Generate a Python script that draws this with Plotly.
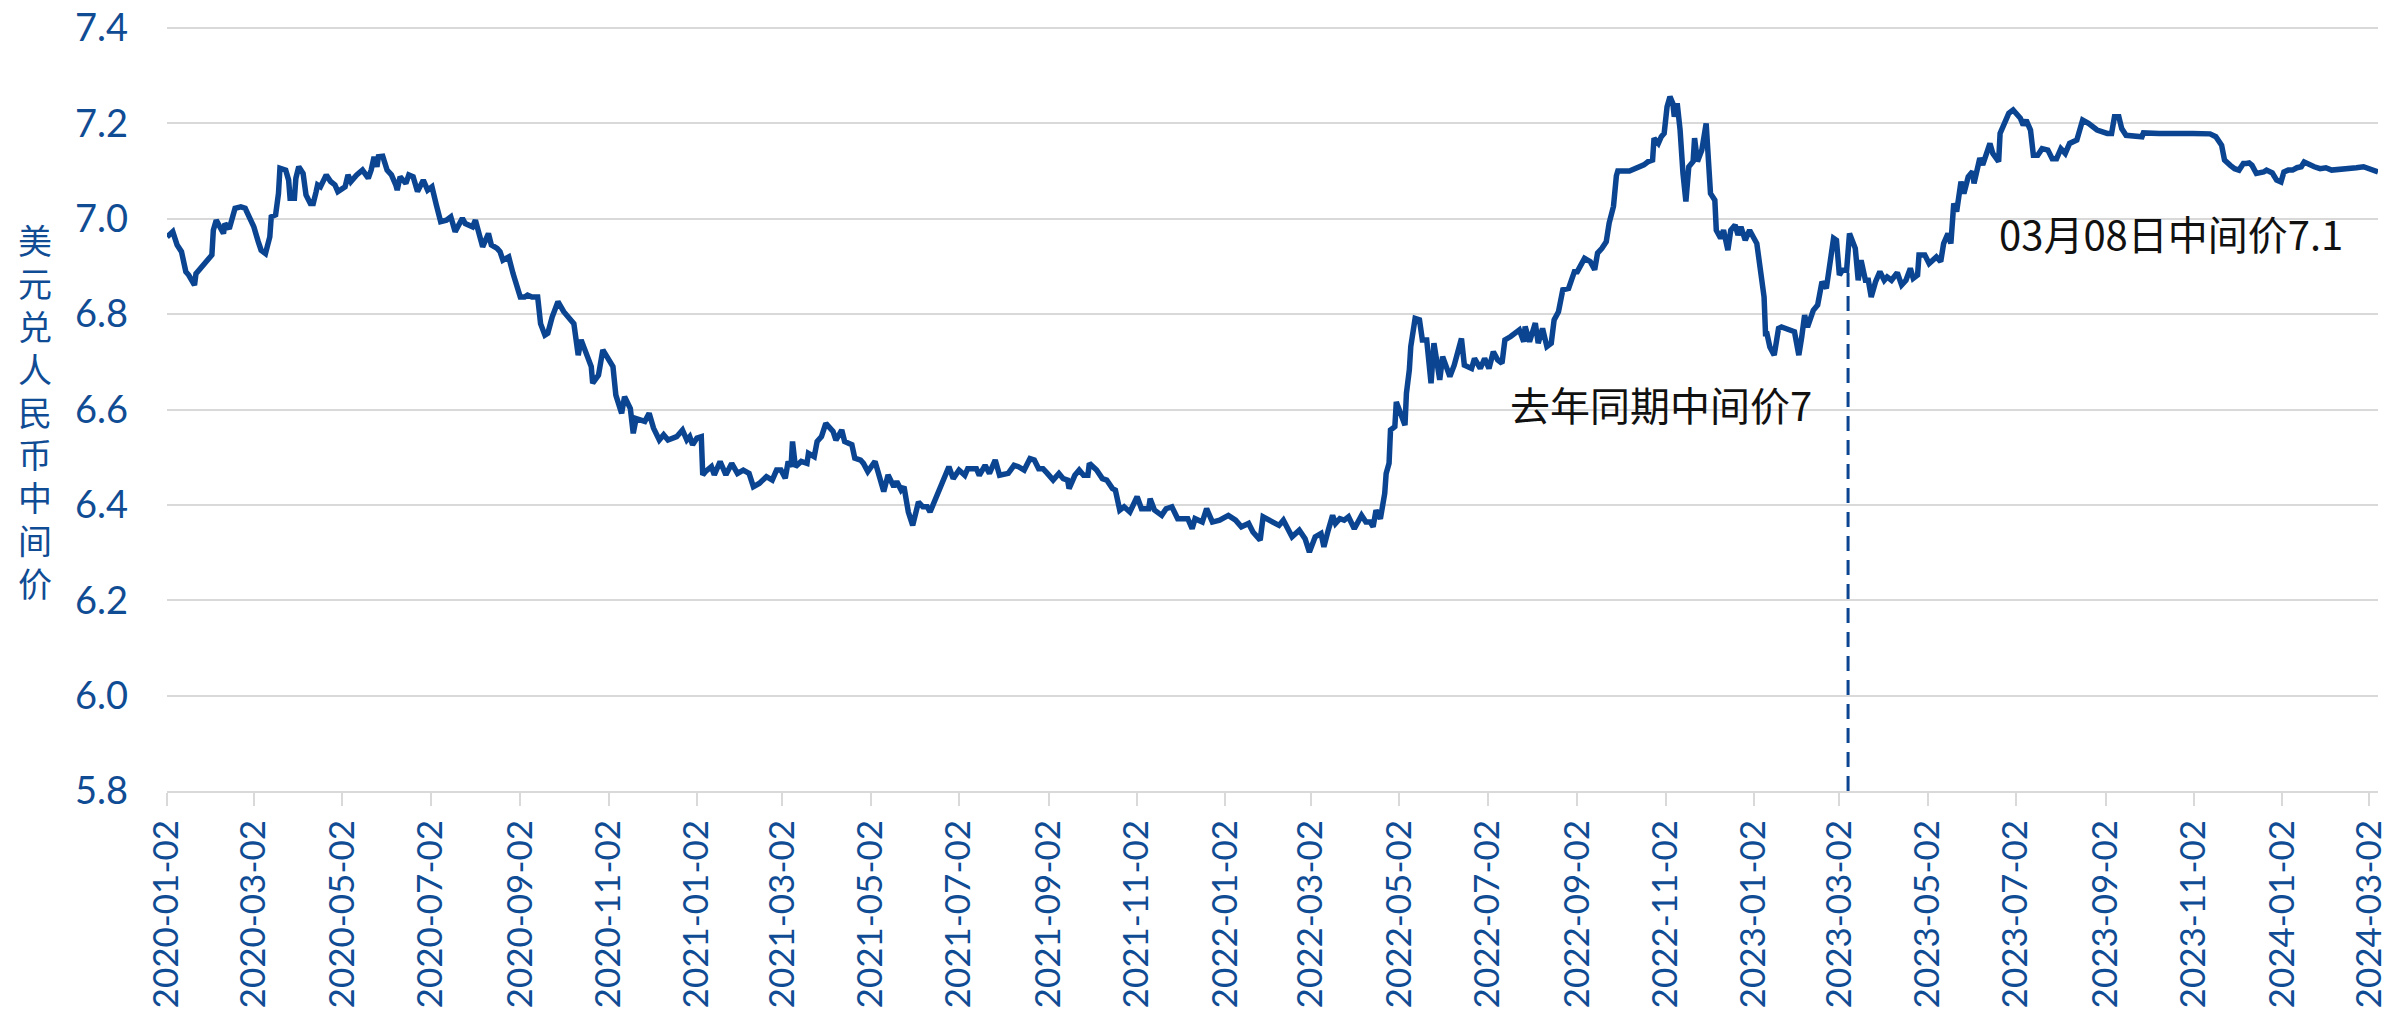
import plotly.graph_objects as go

# ---------------- data ----------------
dates = [
    "2020-01-02","2020-01-06","2020-01-09","2020-01-12","2020-01-15","2020-01-17","2020-01-21","2020-01-22",
    "2020-02-02","2020-02-03","2020-02-05","2020-02-07","2020-02-10","2020-02-11","2020-02-14","2020-02-18",
    "2020-02-22","2020-02-25","2020-03-02","2020-03-05","2020-03-07","2020-03-10","2020-03-13","2020-03-14",
    "2020-03-17","2020-03-19","2020-03-20","2020-03-24","2020-03-26","2020-03-27","2020-03-30","2020-03-31",
    "2020-04-02","2020-04-05","2020-04-07","2020-04-10","2020-04-12","2020-04-14","2020-04-15","2020-04-17",
    "2020-04-21","2020-04-24","2020-04-27","2020-04-29","2020-05-04","2020-05-06","2020-05-08","2020-05-12",
    "2020-05-16","2020-05-20","2020-05-22","2020-05-24","2020-05-26","2020-05-27","2020-05-30","2020-06-02",
    "2020-06-05","2020-06-08","2020-06-09","2020-06-11","2020-06-15","2020-06-17","2020-06-20","2020-06-23",
    "2020-06-27","2020-06-30","2020-07-03","2020-07-06","2020-07-09","2020-07-13","2020-07-16","2020-07-19",
    "2020-07-22","2020-07-24","2020-07-26","2020-07-31","2020-08-02","2020-08-05","2020-08-07","2020-08-11",
    "2020-08-13","2020-08-17","2020-08-19","2020-08-21","2020-08-25","2020-08-28","2020-09-02","2020-09-05",
    "2020-09-07","2020-09-10","2020-09-14","2020-09-16","2020-09-19","2020-09-21","2020-09-24","2020-09-28",
    "2020-10-02","2020-10-09","2020-10-12","2020-10-14","2020-10-16","2020-10-21","2020-10-22","2020-10-26",
    "2020-10-29","2020-11-03","2020-11-05","2020-11-07","2020-11-09","2020-11-11","2020-11-13","2020-11-17",
    "2020-11-19","2020-11-21","2020-11-27","2020-11-30","2020-12-03","2020-12-07","2020-12-10","2020-12-13",
    "2020-12-19","2020-12-23","2020-12-26","2020-12-28","2020-12-30","2021-01-02","2021-01-05","2021-01-06",
    "2021-01-08","2021-01-12","2021-01-14","2021-01-18","2021-01-22","2021-01-26","2021-01-30","2021-02-03",
    "2021-02-07","2021-02-10","2021-02-14","2021-02-19","2021-02-23","2021-02-26","2021-03-01","2021-03-04",
    "2021-03-06","2021-03-08","2021-03-09","2021-03-11","2021-03-15","2021-03-19","2021-03-20","2021-03-24",
    "2021-03-26","2021-03-29","2021-04-01","2021-04-03","2021-04-06","2021-04-08","2021-04-12","2021-04-14",
    "2021-04-19","2021-04-21","2021-04-25","2021-04-27","2021-04-30","2021-05-05","2021-05-07","2021-05-11",
    "2021-05-14","2021-05-18","2021-05-20","2021-05-23","2021-05-25","2021-05-28","2021-05-31","2021-06-04",
    "2021-06-07","2021-06-10","2021-06-12","2021-06-15","2021-06-18","2021-06-21","2021-06-25","2021-06-28",
    "2021-07-02","2021-07-06","2021-07-08","2021-07-14","2021-07-16","2021-07-20","2021-07-23","2021-07-27",
    "2021-07-30","2021-08-05","2021-08-09","2021-08-12","2021-08-16","2021-08-20","2021-08-23","2021-08-26",
    "2021-08-29","2021-09-01","2021-09-05","2021-09-09","2021-09-12","2021-09-15","2021-09-16","2021-09-20",
    "2021-09-23","2021-09-26","2021-09-29","2021-09-30","2021-10-05","2021-10-09","2021-10-12","2021-10-16",
    "2021-10-18","2021-10-21","2021-10-24","2021-10-28","2021-11-02","2021-11-05","2021-11-10","2021-11-11",
    "2021-11-14","2021-11-19","2021-11-22","2021-11-26","2021-11-30","2021-12-04","2021-12-07","2021-12-10",
    "2021-12-12","2021-12-17","2021-12-20","2021-12-24","2021-12-29","2022-01-04","2022-01-09","2022-01-13",
    "2022-01-18","2022-01-21","2022-01-26","2022-01-28","2022-02-02","2022-02-08","2022-02-11","2022-02-17",
    "2022-02-22","2022-02-26","2022-03-01","2022-03-05","2022-03-09","2022-03-11","2022-03-14","2022-03-17",
    "2022-03-19","2022-03-22","2022-03-25","2022-03-28","2022-04-01","2022-04-06","2022-04-09","2022-04-12",
    "2022-04-14","2022-04-16","2022-04-19","2022-04-22","2022-04-23","2022-04-25","2022-04-26","2022-04-29",
    "2022-04-30","2022-05-04","2022-05-06","2022-05-07","2022-05-09","2022-05-10","2022-05-13","2022-05-16",
    "2022-05-18","2022-05-21","2022-05-24","2022-05-26","2022-05-30","2022-06-01","2022-06-06","2022-06-09",
    "2022-06-14","2022-06-16","2022-06-21","2022-06-23","2022-06-27","2022-06-30","2022-07-03","2022-07-06",
    "2022-07-09","2022-07-12","2022-07-14","2022-07-18","2022-07-21","2022-07-24","2022-07-27","2022-07-28",
    "2022-07-31","2022-08-04","2022-08-06","2022-08-09","2022-08-12","2022-08-15","2022-08-17","2022-08-20",
    "2022-08-23","2022-08-27","2022-08-31","2022-09-02","2022-09-07","2022-09-11","2022-09-14","2022-09-16",
    "2022-09-19","2022-09-22","2022-09-24","2022-09-27","2022-09-29","2022-09-30","2022-10-08","2022-10-15",
    "2022-10-18","2022-10-21","2022-10-24","2022-10-25","2022-10-28","2022-10-30","2022-11-01","2022-11-03",
    "2022-11-05","2022-11-07","2022-11-08","2022-11-10","2022-11-12","2022-11-14","2022-11-16","2022-11-18",
    "2022-11-21","2022-11-22","2022-11-24","2022-11-27","2022-11-30","2022-12-03","2022-12-06","2022-12-07",
    "2022-12-10","2022-12-12","2022-12-15","2022-12-17","2022-12-20","2022-12-22","2022-12-24","2022-12-27",
    "2022-12-30","2023-01-04","2023-01-07","2023-01-09","2023-01-10","2023-01-11","2023-01-13","2023-01-16",
    "2023-01-19","2023-01-21","2023-01-30","2023-02-02","2023-02-04","2023-02-06","2023-02-08","2023-02-12",
    "2023-02-15","2023-02-18","2023-02-21","2023-02-23","2023-02-26","2023-02-28","2023-03-02","2023-03-04",
    "2023-03-07","2023-03-09","2023-03-13","2023-03-15","2023-03-17","2023-03-20","2023-03-22","2023-03-24",
    "2023-03-27","2023-03-30","2023-04-02","2023-04-04","2023-04-07","2023-04-11","2023-04-14","2023-04-17",
    "2023-04-20","2023-04-22","2023-04-25","2023-04-26","2023-04-30","2023-05-03","2023-05-08","2023-05-11",
    "2023-05-13","2023-05-16","2023-05-18","2023-05-20","2023-05-22","2023-05-25","2023-05-27","2023-05-30",
    "2023-06-02","2023-06-03","2023-06-07","2023-06-09","2023-06-14","2023-06-16","2023-06-20","2023-06-21",
    "2023-06-23","2023-06-27","2023-06-30","2023-07-05","2023-07-07","2023-07-09","2023-07-12","2023-07-14",
    "2023-07-17","2023-07-20","2023-07-24","2023-07-27","2023-07-30","2023-08-02","2023-08-05","2023-08-08",
    "2023-08-13","2023-08-15","2023-08-17","2023-08-21","2023-08-27","2023-09-03","2023-09-06","2023-09-08",
    "2023-09-11","2023-09-13","2023-09-16","2023-09-27","2023-09-28","2023-10-09","2023-10-21","2023-11-01",
    "2023-11-13","2023-11-17","2023-11-21","2023-11-23","2023-11-27","2023-11-30","2023-12-03","2023-12-06",
    "2023-12-08","2023-12-10","2023-12-12","2023-12-15","2023-12-20","2023-12-22","2023-12-26","2023-12-29",
    "2024-01-01","2024-01-03","2024-01-06","2024-01-09","2024-01-12","2024-01-15","2024-01-17","2024-01-21",
    "2024-01-24","2024-01-28","2024-02-01","2024-02-05","2024-02-13","2024-02-22","2024-02-27","2024-03-02",
    "2024-03-05","2024-03-08",
]

rate = [
    6.962,6.973,6.945,6.931,6.889,6.882,6.861,6.885,
    6.924,6.976,6.997,6.983,6.969,6.990,6.979,7.022,
    7.025,7.022,6.983,6.952,6.934,6.927,6.962,7.004,
    7.008,7.053,7.106,7.102,7.081,7.043,7.043,7.085,
    7.109,7.095,7.050,7.032,7.032,7.057,7.071,7.067,
    7.092,7.078,7.071,7.057,7.067,7.092,7.078,7.092,
    7.102,7.085,7.102,7.130,7.109,7.130,7.131,7.102,
    7.092,7.071,7.060,7.088,7.074,7.092,7.088,7.057,
    7.081,7.060,7.067,7.029,6.994,6.997,7.004,6.973,
    6.994,7.001,6.990,6.983,6.997,6.969,6.941,6.969,
    6.945,6.938,6.931,6.913,6.920,6.885,6.836,6.836,
    6.840,6.836,6.836,6.780,6.756,6.760,6.794,6.826,
    6.805,6.780,6.714,6.746,6.731,6.690,6.655,6.672,
    6.725,6.700,6.690,6.630,6.613,6.592,6.627,6.602,
    6.550,6.581,6.575,6.592,6.561,6.536,6.547,6.536,
    6.543,6.557,6.536,6.543,6.526,6.540,6.543,6.463,
    6.470,6.480,6.463,6.491,6.463,6.487,6.466,6.473,
    6.466,6.438,6.445,6.459,6.452,6.473,6.473,6.456,
    6.491,6.480,6.533,6.480,6.491,6.487,6.508,6.501,
    6.533,6.543,6.571,6.564,6.554,6.536,6.557,6.533,
    6.526,6.498,6.494,6.487,6.470,6.491,6.466,6.428,
    6.463,6.438,6.449,6.431,6.438,6.385,6.357,6.406,
    6.396,6.396,6.385,6.406,6.431,6.452,6.480,6.455,
    6.473,6.462,6.476,6.476,6.462,6.483,6.466,6.494,
    6.462,6.466,6.483,6.480,6.473,6.497,6.494,6.476,
    6.476,6.466,6.452,6.466,6.455,6.452,6.434,6.462,
    6.473,6.462,6.462,6.487,6.473,6.455,6.452,6.434,
    6.431,6.389,6.396,6.385,6.417,6.392,6.392,6.413,
    6.389,6.378,6.392,6.396,6.371,6.371,6.371,6.350,
    6.371,6.364,6.392,6.364,6.368,6.378,6.368,6.354,
    6.361,6.343,6.326,6.375,6.368,6.357,6.368,6.333,
    6.347,6.329,6.301,6.333,6.340,6.312,6.347,6.378,
    6.361,6.371,6.368,6.375,6.350,6.378,6.364,6.364,
    6.354,6.389,6.371,6.424,6.466,6.487,6.557,6.564,
    6.616,6.585,6.567,6.634,6.683,6.732,6.791,6.788,
    6.746,6.746,6.655,6.739,6.662,6.711,6.669,6.693,
    6.749,6.693,6.686,6.707,6.686,6.707,6.686,6.721,
    6.704,6.697,6.746,6.753,6.760,6.767,6.742,6.774,
    6.742,6.781,6.739,6.770,6.732,6.739,6.788,6.805,
    6.851,6.854,6.889,6.889,6.917,6.910,6.893,6.928,
    6.938,6.952,6.991,7.026,7.090,7.100,7.100,7.109,
    7.113,7.120,7.123,7.169,7.158,7.172,7.179,7.235,
    7.256,7.242,7.214,7.242,7.186,7.095,7.036,7.109,
    7.120,7.169,7.120,7.144,7.200,7.053,7.039,6.976,
    6.959,6.976,6.934,6.976,6.987,6.966,6.983,6.955,
    6.976,6.948,6.889,6.836,6.759,6.759,6.731,6.714,
    6.770,6.773,6.763,6.714,6.752,6.798,6.773,6.808,
    6.819,6.868,6.854,6.903,6.959,6.955,6.882,6.892,
    6.892,6.969,6.938,6.871,6.913,6.871,6.871,6.836,
    6.868,6.889,6.871,6.878,6.871,6.887,6.861,6.871,
    6.896,6.875,6.882,6.924,6.924,6.906,6.920,6.910,
    6.948,6.969,6.948,7.032,7.015,7.078,7.053,7.088,
    7.099,7.074,7.127,7.113,7.158,7.137,7.120,7.179,
    7.193,7.221,7.228,7.211,7.196,7.207,7.186,7.133,
    7.133,7.147,7.144,7.126,7.126,7.147,7.137,7.158,
    7.165,7.186,7.207,7.200,7.186,7.179,7.179,7.214,
    7.214,7.189,7.175,7.172,7.180,7.179,7.180,7.179,
    7.178,7.172,7.154,7.123,7.112,7.105,7.102,7.116,
    7.116,7.117,7.112,7.095,7.098,7.102,7.096,7.081,
    7.077,7.098,7.102,7.102,7.107,7.109,7.119,7.112,
    7.109,7.105,7.107,7.102,7.103,7.107,7.109,7.105,
    7.100,7.098,
]

tick_dates = [
    "2020-01-02","2020-03-02","2020-05-02","2020-07-02","2020-09-02","2020-11-02",
    "2021-01-02","2021-03-02","2021-05-02","2021-07-02","2021-09-02","2021-11-02",
    "2022-01-02","2022-03-02","2022-05-02","2022-07-02","2022-09-02","2022-11-02",
    "2023-01-02","2023-03-02","2023-05-02","2023-07-02","2023-09-02","2023-11-02",
    "2024-01-02","2024-03-02",
]
y_ticks = [5.8, 6.0, 6.2, 6.4, 6.6, 6.8, 7.0, 7.2, 7.4]

y_title = "美元兑人民币中间价"
ref_date = "2023-03-08"
ref_top = 6.886
note_last_year = "去年同期中间价7"
note_last_year_pos = ("2022-07-16", 6.612)
note_current = "03月08日中间价7.1"
note_current_pos = ("2023-06-19", 6.970)

# ---------------- styles / layout ----------------
LINE_BLUE = "#0B4592"
TEXT_BLUE = "#104C94"
GRID = "#D9D9D9"
LATIN = "Lato, 'Noto Sans', sans-serif"
CJK = "'Noto Sans CJK SC', 'Noto Sans', sans-serif"

FIG_W, FIG_H = 2376, 1003
PLOT_TOP, PLOT_BOTTOM = 15, 783            # figure px
PX_PER_UNIT = 763 / 1.6                     # 0.2 step = 95.4 px
Y_MIN = 5.8
Y_MAX = Y_MIN + (PLOT_BOTTOM - PLOT_TOP) / PX_PER_UNIT   # a little headroom above 7.4

fig = go.Figure()
fig.add_trace(go.Scatter(
    x=dates, y=rate, mode="lines",
    line=dict(color=LINE_BLUE, width=5.5),
    hoverinfo="x+y", showlegend=False,
))

# dashed reference line (same date last year)
fig.add_shape(type="line", xref="x", yref="y",
              x0=ref_date, x1=ref_date, y0=Y_MIN, y1=ref_top,
              line=dict(color=LINE_BLUE, width=3, dash="15px,9px"))

fig.add_annotation(x=note_last_year_pos[0], y=note_last_year_pos[1], xref="x", yref="y",
                   text=note_last_year, showarrow=False, xanchor="left", yanchor="middle",
                   font=dict(family=CJK, size=40, color="#111111"))
fig.add_annotation(x=note_current_pos[0], y=note_current_pos[1], xref="x", yref="y",
                   text=note_current, showarrow=False, xanchor="left", yanchor="middle",
                   font=dict(family=CJK, size=40, color="#111111"))

# vertical (stacked) axis title: one character per row
first_center, step = 232, 42.75     # figure px of first character centre, row step
plot_h = PLOT_BOTTOM - PLOT_TOP
for i, ch in enumerate(y_title):
    cy = first_center + i * step
    fig.add_annotation(x=-0.0597, y=1 - (cy - PLOT_TOP) / plot_h, xref="paper", yref="paper",
                       text=ch, showarrow=False, xanchor="center", yanchor="middle",
                       font=dict(family=CJK, size=34, color=TEXT_BLUE))

fig.update_layout(
    width=FIG_W, height=FIG_H,
    margin=dict(l=159, r=6, t=PLOT_TOP, b=FIG_H - PLOT_BOTTOM, pad=0),
    paper_bgcolor="white", plot_bgcolor="white",
    showlegend=False,
)
fig.update_xaxes(
    type="date", range=["2020-01-02", "2024-03-08"], automargin=False,
    tickmode="array", tickvals=tick_dates, ticktext=tick_dates,
    tickangle=-90, ticks="outside", ticklen=13, tickwidth=2, tickcolor=GRID,
    ticklabeloverflow="allow",
    showline=True, linecolor=GRID, linewidth=2, showgrid=False, zeroline=False,
    tickfont=dict(family=LATIN, size=35, color=TEXT_BLUE),
)
fig.update_yaxes(
    range=[Y_MIN, Y_MAX], automargin=False, tickmode="array", tickvals=y_ticks,
    ticktext=[f"{v:.1f}" for v in y_ticks],
    showgrid=True, gridcolor=GRID, gridwidth=2, zeroline=False, showline=False,
    ticks="", ticklabelstandoff=38, ticklabeloverflow="allow",
    tickfont=dict(family=LATIN, size=38, color=TEXT_BLUE),
)

fig.write_html("out.html")
